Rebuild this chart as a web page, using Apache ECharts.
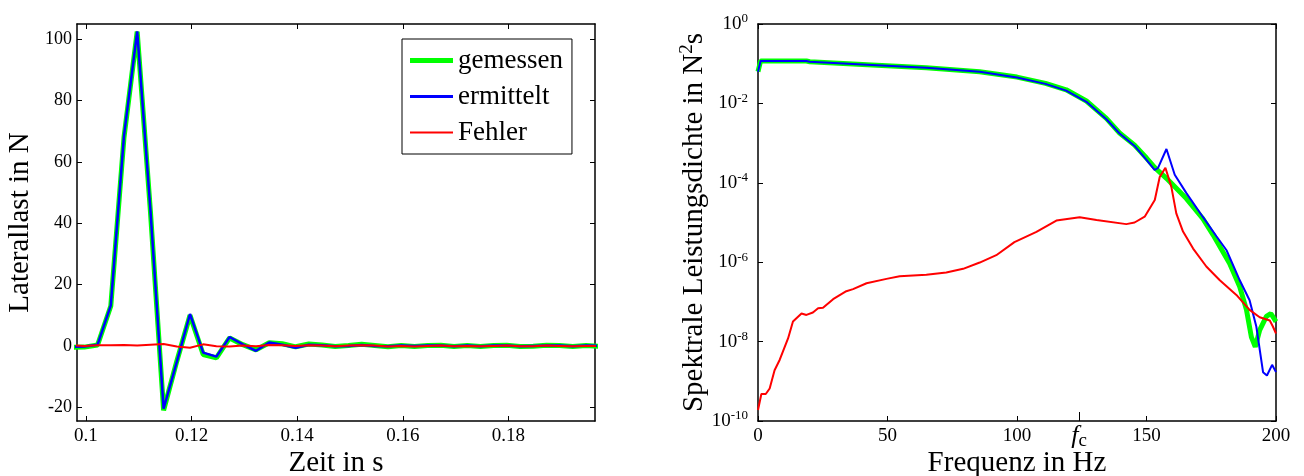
<!DOCTYPE html>
<html><head><meta charset="utf-8">
<script src="https://cdn.jsdelivr.net/npm/echarts@6/dist/echarts.min.js"></script>
<style>html,body{margin:0;padding:0;background:#fff}#c{width:1304px;height:476px}</style>
</head><body><div id="c"></div><script>
const FONT = '"Liberation Serif", "Times New Roman", Times, serif';

// ---------- left panel: time domain ----------
const timeS = [0.0972,0.0997,0.1022,0.1047,0.1072,0.1097,0.1122,0.1147,0.1172,0.1197,0.1222,0.1247,0.1272,0.1297,0.1322,0.1347,0.1372,0.1397,0.1422,0.1447,0.1472,0.1497,0.1522,0.1547,0.1572,0.1597,0.1622,0.1647,0.1672,0.1697,0.1722,0.1747,0.1772,0.1797,0.1822,0.1847,0.1872,0.1897,0.1922,0.1947,0.1972];
const loadGemessen = [-0.5,-0.4,0.3,13,68,102.5,44,-21,-5,10,-2.8,-3.9,2.6,0.4,-1.3,1.0,0.7,-0.3,0.6,0.3,-0.2,0.1,0.5,0.1,-0.3,0.1,-0.2,0.1,0.2,-0.2,0.1,-0.2,0.1,0.2,-0.2,-0.1,0.2,0.1,-0.2,0.1,-0.1];
const loadErmittelt = [-0.3,-0.2,0.4,13.2,68.5,102.6,44.5,-20.5,-5.2,10.4,-2.2,-3.5,2.9,0.5,-1.6,1.1,0.4,-0.6,0.4,0.2,-0.1,0.0,0.3,0.0,-0.1,0.1,0.0,0.1,0.1,-0.1,0.1,-0.1,0.1,0.1,-0.1,0.0,0.1,0.1,-0.1,0.1,0.0];
const loadFehler = [0.2,0.0,0.2,0.2,0.3,0.1,0.4,0.6,-0.2,-0.6,0.5,-0.1,-0.2,0.1,-0.1,0.3,0.2,0.0,0.2,0.1,-0.1,0.1,0.2,0.1,-0.2,0.0,-0.2,0.0,0.1,-0.1,0.0,-0.1,0.0,0.1,-0.1,-0.1,0.1,0.0,-0.1,0.0,-0.1];
const leftXTicks = [0.1,0.12,0.14,0.16,0.18];
const leftYTicks = [-20,0,20,40,60,80,100];

// ---------- right panel: power spectral density ----------
const freqGemessen = [0,1,18.7,20,44,65,85.6,100,111,119,126.8,134.5,139.6,145.4,150,153.2,157.7,165.4,171.7,175.7,182.1,186,188.6,190.5,192,193.7,196.3,198,200];
const psdGemessen = [6.3e-2,1.17e-1,1.17e-1,1.12e-1,9.3e-2,7.9e-2,6.3e-2,4.6e-2,3.2e-2,2.2e-2,1.15e-2,4.2e-3,1.8e-3,8.9e-4,4.2e-4,2.4e-4,1.3e-4,4.0e-5,1.26e-5,4.9e-6,9.3e-7,2.4e-7,6.3e-8,1.3e-8,7.4e-9,1.95e-8,4.3e-8,5.1e-8,3.2e-8];
const freqErmittelt = [0,1,18.7,20,44,65,85.6,100,111,119,126.8,134.5,139.6,145.4,150,153.2,154.5,157.7,160.9,165.4,171.7,177,180.9,186,189.8,192.4,195,196.5,198.5,200];
const psdErmittelt = [6.3e-2,1.17e-1,1.17e-1,1.12e-1,9.3e-2,7.9e-2,6.3e-2,4.5e-2,3.1e-2,2.1e-2,1.1e-2,4.0e-3,1.75e-3,8.5e-4,3.8e-4,2.1e-4,2.4e-4,7.1e-4,1.6e-4,5.5e-5,1.4e-5,4.5e-6,2.0e-6,3.5e-7,1.1e-7,2.4e-8,1.7e-9,1.4e-9,2.6e-9,1.7e-9];
const freqFehler = [0,1.3,3,4.5,6.4,8.4,11.6,13.5,16.8,18.7,21.2,23.2,25.1,29,34.1,36.7,41.9,49.6,54.7,65,72.7,79.2,85.6,92,99,107.5,115.2,124.2,130.7,142.2,145.4,149.3,153.2,155.1,157.3,159.6,161.5,164.1,168,173.1,178.3,184.7,189.8,193.7,197.6,198.8,200];
const psdFehler = [1.9e-10,4.8e-10,4.8e-10,6.6e-10,1.9e-9,3.5e-9,1.2e-8,3.2e-8,5.1e-8,4.7e-8,5.4e-8,6.9e-8,7.1e-8,1.17e-7,1.86e-7,2.1e-7,2.95e-7,3.8e-7,4.4e-7,4.8e-7,5.5e-7,6.8e-7,9.8e-7,1.5e-6,3.2e-6,5.8e-6,1.12e-5,1.35e-5,1.15e-5,9.1e-6,1.0e-5,1.4e-5,3.7e-5,1.4e-4,2.4e-4,7.9e-5,1.7e-5,5.9e-6,2.2e-6,7.8e-7,3.5e-7,1.5e-7,6.3e-8,4.1e-8,3.4e-8,2.4e-8,1.6e-8];
const rightXTicks = [0,50,100,150,200];
const fcHz = 124;

const seriesNames = ['gemessen','ermittelt','Fehler'];
const COLORS = ['#00ff00','#0000ff','#ff0000'];

const zip = (xs, ys) => xs.map((x, i) => [x, ys[i]]);

const tickStyle = {show:true, inside:true, length:5, lineStyle:{color:'#000', width:1}};
const lineStyleAxis = {show:true, onZero:false, lineStyle:{color:'#000', width:1.5}};
const labelBase = {color:'#000', fontFamily:FONT, fontSize:19};
const nameStyle = {color:'#000', fontFamily:FONT, fontSize:29};

function plainAxis(extra) {
  return Object.assign({
    type:'value', axisLine:lineStyleAxis, splitLine:{show:false},
    axisTick:tickStyle, axisLabel:{show:false}, nameMoveOverlap:false
  }, extra);
}

const option = {
  animation:false,
  backgroundColor:'#fff',
  legend:{
    data:[
      {name:seriesNames[0], icon:'path://M0,0H43V5H0Z'},
      {name:seriesNames[1], icon:'path://M0,0H43V3H0Z'},
      {name:seriesNames[2], icon:'path://M0,0H43V2H0Z'}
    ],
    orient:'vertical', left:402, top:39,
    padding:[8,9,8,8], itemGap:9, itemWidth:43, itemHeight:26,
    borderColor:'#000', borderWidth:1, backgroundColor:'#fff',
    textStyle:{color:'#000', fontFamily:FONT, fontSize:27}
  },
  grid:[
    {left:77, top:24, width:518, height:397, containLabel:false, outerBoundsMode:'none'},
    {left:758, top:24, width:518, height:397, containLabel:false, outerBoundsMode:'none'}
  ],
  xAxis:[
    plainAxis({gridIndex:0, position:'bottom', min:0.0983, max:0.1964,
      axisTick:Object.assign({}, tickStyle, {customValues:leftXTicks}),
      axisLabel:Object.assign({}, labelBase, {show:true, margin:6, customValues:leftXTicks, formatter:v => String(+v.toFixed(2))}),
      name:'Zeit in s', nameLocation:'middle', nameGap:28, nameTextStyle:nameStyle}),
    plainAxis({gridIndex:0, position:'top', min:0.0983, max:0.1964,
      axisTick:Object.assign({}, tickStyle, {customValues:leftXTicks})}),
    plainAxis({gridIndex:1, position:'bottom', min:0, max:200,
      axisTick:Object.assign({}, tickStyle, {customValues:rightXTicks}),
      axisLabel:Object.assign({}, labelBase, {show:true, margin:6, customValues:rightXTicks}),
      name:'Frequenz in Hz', nameLocation:'middle', nameGap:28, nameTextStyle:nameStyle}),
    plainAxis({gridIndex:1, position:'top', min:0, max:200,
      axisTick:Object.assign({}, tickStyle, {customValues:rightXTicks})}),
    plainAxis({gridIndex:1, position:'bottom', min:0, max:200, axisLine:{show:false},
      axisTick:Object.assign({}, tickStyle, {length:9, customValues:[fcHz]}),
      axisLabel:{show:true, margin:1, customValues:[fcHz], formatter:() => '{f|f}{c|c}',
        rich:{f:{fontFamily:FONT, fontStyle:'italic', fontSize:26, color:'#000'},
              c:{fontFamily:FONT, fontSize:19, color:'#000', padding:[10,0,0,0]}}}})
  ],
  yAxis:[
    plainAxis({gridIndex:0, position:'left', min:-24.5, max:105,
      axisTick:Object.assign({}, tickStyle, {customValues:leftYTicks}),
      axisLabel:Object.assign({}, labelBase, {show:true, fontSize:18, margin:5, customValues:leftYTicks}),
      name:'Laterallast in N', nameLocation:'middle', nameGap:42, nameRotate:90, nameTextStyle:nameStyle}),
    plainAxis({gridIndex:0, position:'right', min:-24.5, max:105,
      axisTick:Object.assign({}, tickStyle, {customValues:leftYTicks})}),
    plainAxis({gridIndex:1, type:'log', logBase:10, position:'left', min:1e-10, max:1, interval:2,
      axisLabel:{show:true, margin:10, formatter:v => '{b|10}{s|' + Math.round(Math.log10(v)) + '}',
        rich:{b:{fontFamily:FONT, fontSize:19, color:'#000'},
              s:{fontFamily:FONT, fontSize:13, color:'#000', padding:[0,0,10,0]}}},
      name:'Spektrale Leistungsdichte in N{s|2}s', nameLocation:'middle', nameGap:47, nameRotate:90,
      nameTextStyle:Object.assign({}, nameStyle, {rich:{s:{fontFamily:FONT, fontSize:19, color:'#000', padding:[0,0,14,0]}}})}),
    plainAxis({gridIndex:1, type:'log', logBase:10, position:'right', min:1e-10, max:1, interval:2})
  ],
  series:[
    {name:seriesNames[0], type:'line', xAxisIndex:0, yAxisIndex:0, data:zip(timeS, loadGemessen), symbol:'none', clip:true, lineStyle:{color:COLORS[0], width:5}, itemStyle:{color:COLORS[0]}},
    {name:seriesNames[1], type:'line', xAxisIndex:0, yAxisIndex:0, data:zip(timeS, loadErmittelt), symbol:'none', clip:true, lineStyle:{color:COLORS[1], width:2.5}, itemStyle:{color:COLORS[1]}},
    {name:seriesNames[2], type:'line', xAxisIndex:0, yAxisIndex:0, data:zip(timeS, loadFehler), symbol:'none', clip:true, lineStyle:{color:COLORS[2], width:2}, itemStyle:{color:COLORS[2]}},
    {name:seriesNames[0], type:'line', xAxisIndex:2, yAxisIndex:2, data:zip(freqGemessen, psdGemessen), symbol:'none', clip:true, lineStyle:{color:COLORS[0], width:5}, itemStyle:{color:COLORS[0]}},
    {name:seriesNames[1], type:'line', xAxisIndex:2, yAxisIndex:2, data:zip(freqErmittelt, psdErmittelt), symbol:'none', clip:true, lineStyle:{color:COLORS[1], width:2}, itemStyle:{color:COLORS[1]}},
    {name:seriesNames[2], type:'line', xAxisIndex:2, yAxisIndex:2, data:zip(freqFehler, psdFehler), symbol:'none', clip:true, lineStyle:{color:COLORS[2], width:2}, itemStyle:{color:COLORS[2]}}
  ]
};
const chart = echarts.init(document.getElementById('c'), null, {renderer:'canvas'});
chart.setOption(option);
</script></body></html>
